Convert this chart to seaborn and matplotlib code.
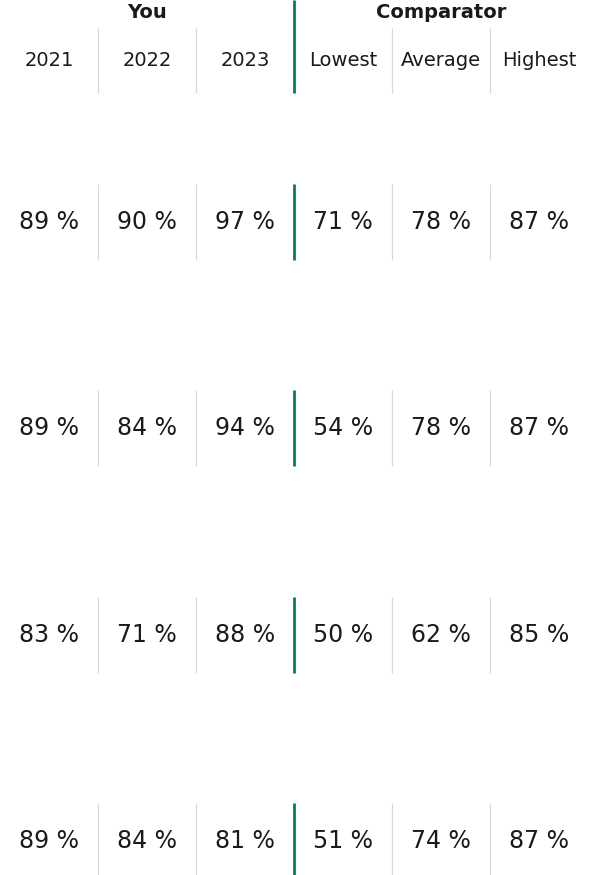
import numpy as np
import pandas as pd
import matplotlib
matplotlib.use("Agg")
import matplotlib.pyplot as plt
import seaborn as sns

# data
groups = ["You", "Comparator"]
columns = ["2021", "2022", "2023", "Lowest", "Average", "Highest"]
you_2021 = [89, 89, 83, 89]
you_2022 = [90, 84, 71, 84]
you_2023 = [97, 94, 88, 81]
comp_lowest = [71, 54, 50, 51]
comp_average = [78, 78, 62, 74]
comp_highest = [87, 87, 85, 87]

df = pd.DataFrame({
    "2021": you_2021, "2022": you_2022, "2023": you_2023,
    "Lowest": comp_lowest, "Average": comp_average, "Highest": comp_highest,
})

sns.set_theme(style="white")
plt.rcParams["font.family"] = ["DejaVu Sans"]

W, H = 603, 875
col_w = 98.0
green = "#00804f"
grey = "#d9d9d9"
ink = "#1a1a1a"

fig = plt.figure(figsize=(W / 100, H / 100), dpi=100)
ax = fig.add_axes([0, 0, 1, 1])
ax.set_xlim(0, W / col_w)
ax.set_ylim(H, 0)
ax.axis("off")

# header
ax.text(1.5, 13, groups[0], ha="center", va="center", fontsize=14, fontweight="bold", color=ink)
ax.text(4.5, 13, groups[1], ha="center", va="center", fontsize=14, fontweight="bold", color=ink)
for i, c in enumerate(columns):
    ax.text(i + 0.5, 61, c, ha="center", va="center", fontsize=14, color=ink)
ax.vlines([1, 2, 4, 5], 28, 93, color=grey, lw=0.9)
ax.vlines(3, 0, 93, color=green, lw=2)

# value rows
row_y = 222 + 206.3 * np.arange(len(df))
for r, y in enumerate(row_y):
    for i, c in enumerate(columns):
        ax.text(i + 0.5, y, f"{df[c].iloc[r]} %", ha="center", va="center",
                fontsize=17, color=ink)
    ax.vlines([1, 2, 4, 5], y - 38, y + 38, color=grey, lw=0.9)
    ax.vlines(3, y - 38, y + 38, color=green, lw=2)

fig.savefig("out.png", dpi=100)
